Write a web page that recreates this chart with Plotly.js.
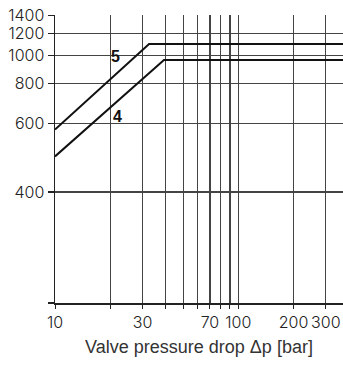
<!DOCTYPE html>
<html><head><meta charset="utf-8">
<script src="https://cdn.plot.ly/plotly-3.0.1.min.js"></script>
<style>html,body{margin:0;padding:0;background:#fff}</style>
</head><body>
<div id="chart" style="width:343px;height:365px"></div>
<script>
// Valve pressure drop Δp [bar]
const curve5X = [10, 32.6, 400];
const curve5Y = [577, 1097, 1097];
const curve4X = [10, 39.3, 400];
const curve4Y = [487, 962, 962];
const curveLabels = ['5', '4'];
const labelX = [21.5, 21.8];
const labelY = [992, 631];

const xGridVals = [10, 20, 30, 40, 50, 60, 70, 80, 90, 100, 200, 300];
const xTickText = ['10', '', '30', '', '', '', '70', '', '', '100', '200', '300'];
const yTickVals = [1400, 1200, 1000, 800, 600, 400, 265];
const yTickText = ['1400', '1200', '1000', '800', '600', '400', ''];

// The chart's vertical scale is logarithmic in (value - 200)
const Y_OFFSET = 200;
const ty = v => v - Y_OFFSET;

const lineStyle = {color: '#111', width: 2};
const traces = [
  {x: curve5X, y: curve5Y.map(ty), mode: 'lines', line: lineStyle, hoverinfo: 'skip', showlegend: false},
  {x: curve4X, y: curve4Y.map(ty), mode: 'lines', line: lineStyle, hoverinfo: 'skip', showlegend: false}
];

const tickFont = {family: 'Inter, DejaVu Sans Condensed, sans-serif', size: 16, color: '#222', weight: 300};

const layout = {
  width: 343, height: 365,
  margin: {l: 55, r: 0, t: 15, b: 62},
  paper_bgcolor: '#fff', plot_bgcolor: '#fff',
  xaxis: {
    type: 'log', range: [1, 2.571],
    tickmode: 'array', tickvals: xGridVals, ticktext: xTickText, tickangle: 0,
    ticks: 'outside', ticklen: 4, tickcolor: '#222', tickwidth: 1,
    showgrid: true, gridcolor: '#444', gridwidth: 1.2,
    showline: true, linecolor: '#222', linewidth: 1.5,
    zeroline: false, tickfont: tickFont,
    title: {text: 'Valve pressure drop Δp [bar]', font: {family: 'Liberation Sans, Arial, sans-serif', size: 18, color: '#333'}, standoff: 9}
  },
  yaxis: {
    type: 'log', range: [Math.log10(ty(265)), 3.0804],
    tickmode: 'array', tickvals: yTickVals.map(ty), ticktext: yTickText,
    ticks: 'outside', ticklen: 6, tickcolor: '#222', tickwidth: 1.2,
    showgrid: true, gridcolor: '#444', gridwidth: 1.2,
    showline: true, linecolor: '#222', linewidth: 1.5,
    zeroline: false, tickfont: tickFont
  },
  annotations: curveLabels.map((t, i) => ({
    x: Math.log10(labelX[i]), y: Math.log10(ty(labelY[i])), xref: 'x', yref: 'y',
    text: '<b>' + t + '</b>', showarrow: false,
    font: {family: 'Liberation Sans, Arial, sans-serif', size: 16, color: '#111'},
    bgcolor: 'rgba(255,255,255,0)'
  }))
};

Plotly.newPlot('chart', traces, layout, {displayModeBar: false, staticPlot: true});
</script>
</body></html>
